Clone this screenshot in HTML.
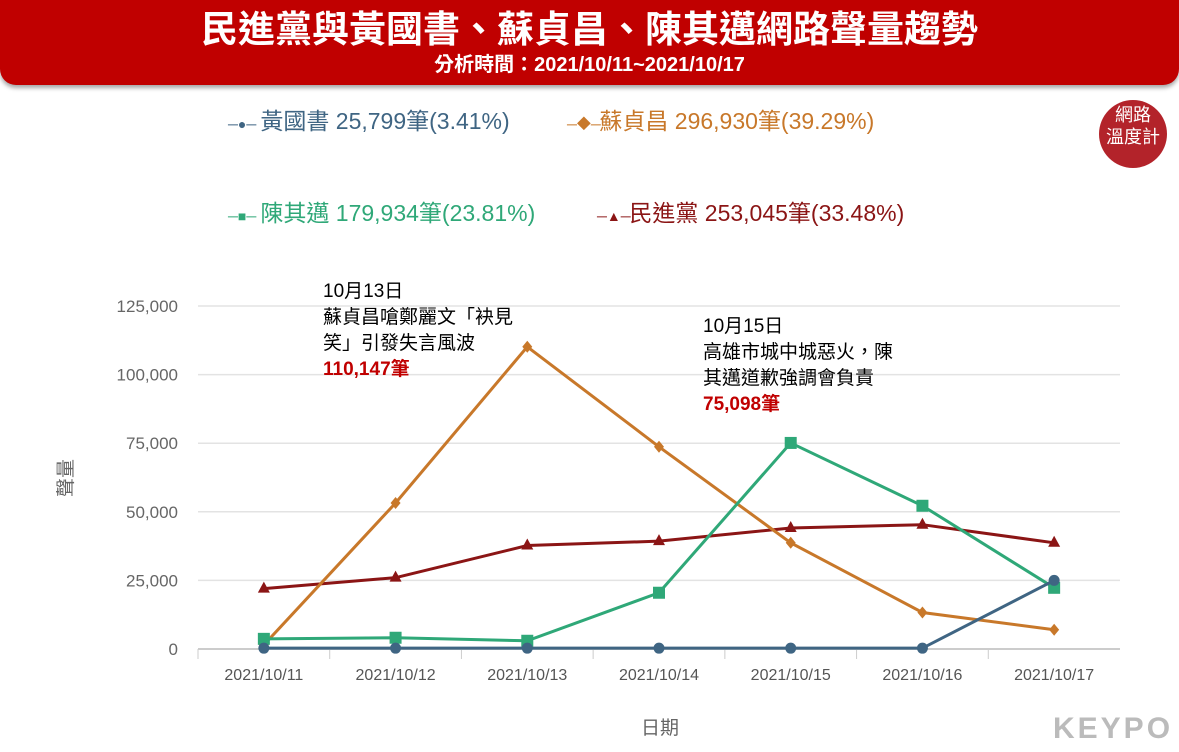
<!DOCTYPE html>
<html><head><meta charset="utf-8"><style>
body{margin:0;width:1179px;height:752px;background:#fff;font-family:"Liberation Sans","Noto Sans CJK TC",sans-serif;overflow:hidden;position:relative}
.banner{position:absolute;left:0;top:0;width:1179px;height:85px;background:#c00000;border-radius:0 0 16px 16px;box-shadow:0 3px 4px rgba(0,0,0,.35);color:#fff;text-align:center;z-index:2}
.t1{font-size:37px;font-weight:bold;line-height:44px;padding-top:8px}
.t2{font-size:20px;font-weight:bold;line-height:26px}
.leg{position:absolute;font-size:23px;white-space:nowrap;z-index:2}
.ic{font-size:14px;display:inline-block;width:26px;text-align:center}
.note{position:absolute;font-size:19px;line-height:26px;color:#000;z-index:2;background:transparent}
.red{color:#c00000;font-weight:bold}
svg{z-index:1}
</style></head><body>
<div class="banner">
<div class="t1">民進黨與黃國書、蘇貞昌、陳其邁網路聲量趨勢</div>
<div class="t2">分析時間：2021/10/11~2021/10/17</div>
</div>
<div class="leg" style="left:228px;top:102px;color:#3f6583"><span class="ic">─●─</span> 黃國書 25,799筆(3.41%)</div>
<div class="leg" style="left:567px;top:102px;color:#c8782a"><span class="ic">─◆─</span> 蘇貞昌 296,930筆(39.29%)</div>
<div class="leg" style="left:228px;top:194px;color:#2fa878"><span class="ic">─■─</span> 陳其邁 179,934筆(23.81%)</div>
<div class="leg" style="left:597px;top:194px;color:#8b1515"><span class="ic">─▲─</span> 民進黨 253,045筆(33.48%)</div>
<div style="position:absolute;left:1099px;top:100px;width:68px;height:68px;border-radius:50%;background:#b3232a;color:#fff;font-size:18px;line-height:22px;text-align:center;padding-top:4px;box-sizing:border-box;z-index:2">網路<br>溫度計</div>
<svg id="chart" width="1179" height="752" style="position:absolute;left:0;top:0"></svg>
<div class="note" style="left:323px;top:279px">10月13日<br>蘇貞昌嗆鄭麗文「袂見<br>笑」引發失言風波<br><span class="red">110,147筆</span></div>
<div class="note" style="left:703px;top:314px">10月15日<br>高雄市城中城惡火，陳<br>其邁道歉強調會負責<br><span class="red">75,098筆</span></div>
<div style="position:absolute;left:1053px;top:712px;font-size:30px;font-weight:bold;color:#bbb;letter-spacing:3px;z-index:2">KEYPO</div>
<script>
const categories=["2021/10/11","2021/10/12","2021/10/13","2021/10/14","2021/10/15","2021/10/16","2021/10/17"];
const yTicks=[0,25000,50000,75000,100000,125000];
const huang=[300,300,300,300,300,300,25000];
const su=[1500,53200,110147,73700,38700,13300,7000];
const chen=[3700,4100,3000,20500,75098,52200,22300];
const dpp=[22000,26000,37700,39300,44100,45300,38700];
const svg=document.getElementById('chart');const NS='http://www.w3.org/2000/svg';
const x0=198,x1=1120,y0=649,y1=306;
const bw=(x1-x0)/categories.length;
function X(i){return x0+bw*(i+0.5);}
function Y(v){return y0-(v/125000)*(y0-y1);}
function mk(t,a){const e=document.createElementNS(NS,t);for(const k in a)e.setAttribute(k,a[k]);svg.appendChild(e);return e;}
yTicks.forEach(v=>{
const l=mk('line',{x1:x0,x2:x1,y1:Y(v),y2:Y(v),stroke:v===0?'#ccc':'#e3e3e3','stroke-width':v===0?2:1.5});


const t=mk('text',{x:178,y:Y(v)+6,'text-anchor':'end','font-size':17,fill:'#666'});t.textContent=v.toLocaleString('en-US');


});
categories.forEach((c,i)=>{
const tk=mk('line',{x1:x0+bw*i,x2:x0+bw*i,y1:y0,y2:y0+10,stroke:'#ccc'});


const t=mk('text',{x:X(i),y:680,'text-anchor':'middle','font-size':16,fill:'#555'});t.textContent=c;


});
const xt=mk('text',{x:660,y:734,'text-anchor':'middle','font-size':19,fill:'#666'});xt.textContent='日期';


const yt=mk('text',{x:0,y:0,'text-anchor':'middle','font-size':19,fill:'#666',transform:'translate(72,478) rotate(-90)'});yt.textContent='聲量';


function series(data,color,shape,name){
const p=mk('polyline',{points:data.map((v,i)=>X(i)+','+Y(v)).join(' '),fill:'none',stroke:color,'stroke-width':3});


data.forEach((v,i)=>{const x=X(i),y=Y(v);let m;
if(shape==='c')m=mk('circle',{cx:x,cy:y,r:5.5,fill:color});
else if(shape==='d')m=mk('polygon',{points:`${x},${y-6} ${x+5},${y} ${x},${y+6} ${x-5},${y}`,fill:color});
else if(shape==='s')m=mk('rect',{x:x-6,y:y-6,width:12,height:12,fill:color});
else m=mk('polygon',{points:`${x},${y-7} ${x+6},${y+4} ${x-6},${y+4}`,fill:color});

});
}
series(dpp,'#8b1515','t','dpp');
series(su,'#c8782a','d','su');
series(chen,'#2fa878','s','chen');
series(huang,'#3f6583','c','huang');
</script>
</body></html>
